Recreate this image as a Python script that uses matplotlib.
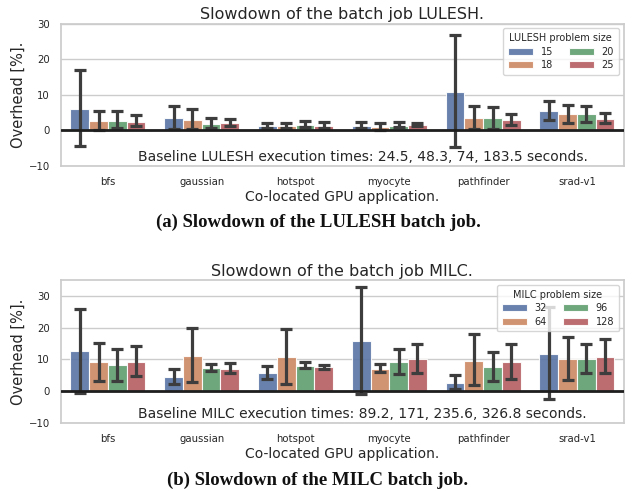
import numpy as np
import matplotlib
matplotlib.use("Agg")
import matplotlib.pyplot as plt
import seaborn as sns

apps = ["bfs", "gaussian", "hotspot", "myocyte", "pathfinder", "srad-v1"]

# LULESH batch job: mean overhead and CI bounds per problem size
lulesh_sizes = ["15", "18", "20", "25"]
lulesh_mean = [
    [6.1, 3.5, 1.3, 1.3, 10.9, 5.5],
    [2.6, 3.0, 1.2, 1.0, 3.5, 4.6],
    [2.7, 1.9, 1.6, 1.3, 3.5, 4.6],
    [2.4, 2.1, 1.3, 1.6, 2.8, 3.3],
]
lulesh_low = [
    [-4.3, 0.4, 0.8, 0.7, -4.7, 2.8],
    [0.2, 0.5, 0.7, 0.2, 0.4, 2.2],
    [0.8, 0.8, 0.9, 0.9, 0.5, 2.4],
    [1.1, 1.2, 0.7, 1.3, 1.5, 2.0],
]
lulesh_high = [
    [17.0, 6.9, 2.0, 2.3, 26.9, 8.3],
    [5.5, 6.0, 2.0, 2.1, 6.8, 7.2],
    [5.3, 3.5, 2.6, 2.4, 6.6, 6.8],
    [4.4, 3.2, 2.3, 2.2, 4.6, 4.9],
]

# MILC batch job
milc_sizes = ["32", "64", "96", "128"]
milc_mean = [
    [12.6, 4.4, 5.6, 15.8, 2.5, 11.8],
    [9.1, 11.1, 10.7, 6.9, 9.5, 10.0],
    [8.1, 7.3, 7.9, 9.2, 7.6, 10.0],
    [9.2, 6.9, 7.5, 10.0, 9.1, 10.6],
]
milc_low = [
    [-0.5, 2.3, 3.7, -0.9, 0.5, -2.6],
    [3.3, 2.7, 2.3, 6.0, 1.8, 3.5],
    [3.2, 6.4, 7.3, 5.5, 3.3, 5.6],
    [4.7, 5.8, 6.8, 5.7, 3.7, 5.8],
]
milc_high = [
    [25.8, 6.9, 8.0, 32.9, 5.2, 26.6],
    [15.3, 19.8, 19.6, 8.5, 17.9, 16.9],
    [13.4, 8.6, 9.1, 13.3, 12.3, 14.8],
    [14.3, 8.7, 8.3, 14.7, 14.9, 16.3],
]

sns.set_theme(style="whitegrid")
colors = ["#5975a4", "#cc8963", "#5f9e6e", "#b55d60"]


def draw_panel(ax, name, sizes, mean, low, high, baseline, ylim):
    x = np.arange(len(apps))
    w = 0.2
    for i in range(len(sizes)):
        m = np.array(mean[i])
        err = [m - np.array(low[i]), np.array(high[i]) - m]
        pos = x - 0.3 + i * w
        ax.bar(pos, m, width=w, color=colors[i], alpha=0.9, edgecolor="white",
               linewidth=0.8, label=sizes[i], zorder=2)
        ax.errorbar(pos, m, yerr=err, fmt="none", ecolor="#3d3d3d", elinewidth=2.3,
                    capsize=4.5, capthick=2.3, zorder=3)
    ax.axhline(0, color="#1e1e1e", linewidth=2, zorder=4)
    ax.set_xlim(-0.5, len(apps) - 0.5)
    ax.set_ylim(*ylim)
    ax.set_yticks([-10, 0, 10, 20, 30])
    ax.set_xticks(x)
    ax.set_xticklabels(apps)
    ax.tick_params(axis="both", labelsize=7.3, pad=2)
    ax.xaxis.grid(False)
    ax.set_title("Slowdown of the batch job " + name + ".", fontsize=11.5, pad=3)
    ax.set_ylabel("Overhead [%].", fontsize=10.5, labelpad=2)
    ax.set_xlabel("Co-located GPU application.", fontsize=10, labelpad=2)
    ax.text(0.136, 0.06, "Baseline " + name + " execution times: " + baseline + " seconds.",
            transform=ax.transAxes, ha="left", va="center", fontsize=10, color="#262626",
            zorder=5)
    ax.legend(title=name + " problem size", ncol=2, loc="upper right", fontsize=7,
              title_fontsize=7, handlelength=2.6, columnspacing=1.6, borderpad=0.5,
              labelspacing=0.35, handletextpad=0.8)


fig = plt.figure(figsize=(6.36, 4.91), dpi=100)
ax1 = fig.add_axes([0.0959, 0.662, 0.885, 0.290])
ax2 = fig.add_axes([0.0959, 0.139, 0.885, 0.2906])

draw_panel(ax1, "LULESH", lulesh_sizes, lulesh_mean, lulesh_low, lulesh_high,
           "24.5, 48.3, 74, 183.5", (-10, 30))
draw_panel(ax2, "MILC", milc_sizes, milc_mean, milc_low, milc_high,
           "89.2, 171, 235.6, 326.8", (-10, 35))

fig.text(0.5, 0.548, "(a) Slowdown of the LULESH batch job.", ha="center", va="center",
         fontsize=13.5, fontweight="bold", family="Liberation Serif", color="#111111")
fig.text(0.5, 0.0224, "(b) Slowdown of the MILC batch job.", ha="center", va="center",
         fontsize=13.5, fontweight="bold", family="Liberation Serif", color="#111111")

fig.savefig("out.png", dpi=100)
